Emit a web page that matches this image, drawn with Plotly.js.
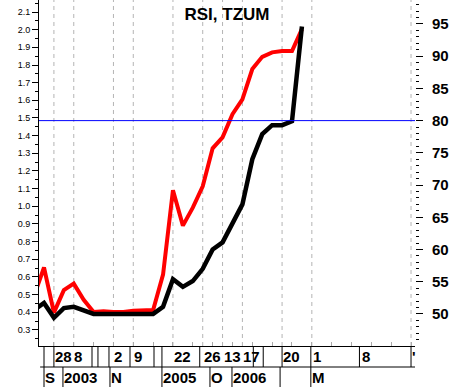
<!DOCTYPE html>
<html>
<head>
<meta charset="utf-8">
<script src="https://cdn.plot.ly/plotly-3.0.1.min.js"></script>
<style>html,body{margin:0;padding:0;background:#fff;}#chart{width:454px;height:387px;}</style>
</head>
<body>
<div id="chart"></div>
<script>
// ---- data ----
const pointIndex = [-1,0,1,2,3,4,5,6,7,8,9,10,11,12,13,14,15,16,17,18,19,20,21,22,23,24,25,26];
const rsiRed   = [52.8,57.2,50.2,53.7,54.7,52.2,50.3,50.4,50.3,50.3,50.5,50.6,50.6,56.1,69.2,63.7,66.5,69.8,75.7,77.4,81.0,83.3,88.0,89.9,90.6,90.8,90.8,94.2];
const rsiBlack = [50.6,51.7,49.4,50.9,51.1,50.6,50.0,50.0,50.0,50.0,50.0,50.0,50.0,51.1,55.4,54.2,55.1,57.0,60.0,61.1,63.9,67.0,74.0,77.9,79.3,79.3,79.9,94.6];
const levelValue = 80;

const dayLabels    = ['28','8','2','9','22','26','13','17','20','1','8',"'"];
const dayAt        = [1,2.9,7,9,13,16,18,20,24,27,32,37];
const periodLabels = ['S','2003','N','2005','O','2006','M'];
const periodAt     = [0,1.91,6.65,11.89,16.73,18.95,26.9];

// ---- layout helpers ----
const gridAt   = [1,3,7,9,13,16,18,20,24,27,37];
const sepRow1  = [0,1,4.84,5.44,6.55,8.67,11.09,11.89,15.7,21.1,22.1,24.0,26.9,31.8,37.0];
const sepRow2  = [0,1.91,6.65,11.89,16.73,18.95,23.8,26.9];
const xTicks = [];
for (let k = 1; k <= 37; k += 2) xTicks.push(k);

const plotH = 346;
const row1Bottom = -(367 - 346) / plotH;
const row2Bottom = -(387 - 346) / plotH;
const row1Mid = -(356.5 - 346) / plotH;
const row2Mid = -(377 - 346) / plotH;

const shapes = [];
gridAt.forEach(k => shapes.push({type:'line', xref:'x', yref:'paper', x0:k, x1:k, y0:0, y1:1,
  layer:'below', line:{color:'#b4b4b4', width:1, dash:'4px,4px'}}));
sepRow1.forEach(k => shapes.push({type:'line', xref:'x', yref:'paper', x0:k, x1:k, y0:0, y1:row1Bottom,
  line:{color:'#000', width:1}}));
sepRow2.forEach(k => shapes.push({type:'line', xref:'x', yref:'paper', x0:k, x1:k, y0:row1Bottom, y1:row2Bottom,
  line:{color:'#000', width:1}}));
shapes.push({type:'line', xref:'paper', yref:'paper', x0:0.003, x1:1, y0:row1Bottom, y1:row1Bottom, line:{color:'#000', width:1}});
shapes.push({type:'line', xref:'paper', yref:'y2', x0:0, x1:1, y0:levelValue, y1:levelValue, line:{color:'#0000ff', width:1}});

const labelFont = {family:'Liberation Sans, Arial, sans-serif', size:15, color:'#000', weight:'bold'};
const annotations = [];
dayLabels.forEach((t,i) => annotations.push({text:t, xref:'x', yref:'paper', x:dayAt[i], y:row1Mid,
  xanchor:'left', yanchor:'middle', showarrow:false, font:labelFont, borderpad:0}));
periodLabels.forEach((t,i) => annotations.push({text:t, xref:'x', yref:'paper', x:periodAt[i], y:row2Mid,
  xanchor:'left', yanchor:'middle', showarrow:false, font:labelFont, borderpad:0}));

const traces = [
  // empty trace so that the left-hand axis is drawn
  {x:[null], y:[null], yaxis:'y', type:'scatter', mode:'lines', hoverinfo:'skip'},
  {x:pointIndex, y:rsiRed, yaxis:'y2', type:'scatter', mode:'lines', line:{color:'#ff0000', width:4}, hoverinfo:'skip'},
  {x:pointIndex, y:rsiBlack, yaxis:'y2', type:'scatter', mode:'lines', line:{color:'#000000', width:4.5}, hoverinfo:'skip'}
];

const layout = {
  width:454, height:387,
  margin:{l:39, r:39, t:0, b:41},
  paper_bgcolor:'#fff', plot_bgcolor:'#fff',
  showlegend:false,
  title:{text:'RSI, TZUM', x:0.5, xref:'container', xanchor:'center', y:1-14/387, yref:'container', yanchor:'middle',
    font:{family:'Liberation Sans, Arial, sans-serif', size:17, color:'#000', weight:'bold'}},
  xaxis:{range:[-0.504, 37.40], showline:true, linecolor:'#000', linewidth:1, mirror:false,
    tickmode:'array', tickvals:xTicks, ticks:'inside', ticklen:4, tickcolor:'#aaaaaa',
    showticklabels:false, showgrid:false, zeroline:false, fixedrange:true},
  yaxis:{range:[0.209, 2.168], autorange:false, tick0:0, dtick:0.1, tickformat:'.1f', ticks:'outside', ticklen:6, tickcolor:'#000',
    showline:true, linecolor:'#000', linewidth:1, showgrid:false, zeroline:false,
    minor:{dtick:0.05, tick0:0, ticks:'outside', ticklen:3, tickcolor:'#000', showgrid:false},
    tickfont:{family:'Liberation Sans, Arial, sans-serif', size:9, color:'#000'}, fixedrange:true},
  yaxis2:{overlaying:'y', side:'right', range:[45.02, 98.72], autorange:false, tick0:0, dtick:5, ticks:'outside', ticklen:7, tickcolor:'#000',
    showline:false, showgrid:false, zeroline:false, ticklabelstandoff:6,
    minor:{dtick:1, tick0:0, ticks:'outside', ticklen:3, tickcolor:'#000', showgrid:false},
    tickfont:{family:'Liberation Sans, Arial, sans-serif', size:15, color:'#000', weight:'bold'}, fixedrange:true},
  shapes:shapes,
  annotations:annotations
};

Plotly.newPlot('chart', traces, layout, {displayModeBar:false, staticPlot:true});
</script>
</body>
</html>
